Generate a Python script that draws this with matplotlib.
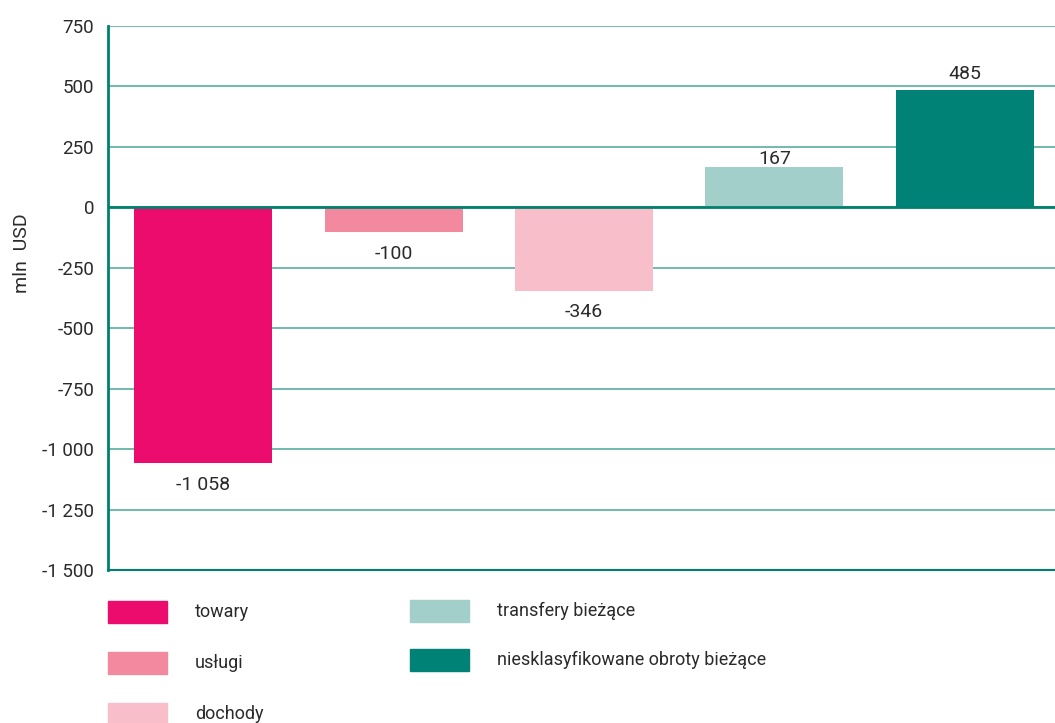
import matplotlib
matplotlib.use("Agg")
import matplotlib.pyplot as plt
from matplotlib import font_manager
from matplotlib.patches import Rectangle

categories = ["towary", "usługi", "dochody", "transfery bieżące", "niesklasyfikowane obroty bieżące"]
values = [-1058, -100, -346, 167, 485]
colors = ["#EC0C6E", "#F2899F", "#F8BFCB", "#A3CFCA", "#008276"]
yticks = [750, 500, 250, 0, -250, -500, -750, -1000, -1250, -1500]
label_offsets = [-13, -13, -12, -1, 7]

names = {f.name for f in font_manager.fontManager.ttflist}
fam = "Liberation Sans Narrow" if "Liberation Sans Narrow" in names else "Roboto"
plt.rcParams["font.family"] = [fam, "DejaVu Sans"]
txtc = "#2a2a2a"
teal = "#00806F"

def fmt(v):
    s = f"{abs(v):,}".replace(",", " ")
    return ("-" if v < 0 else "") + s

W, H = 1055, 723
fig = plt.figure(figsize=(W / 100, H / 100), dpi=100)
ax = fig.add_axes([108 / W, 1 - 570 / H, 952 / W, 544 / H])

x = list(range(len(categories)))
ax.bar(x, values, width=0.725, color=colors, zorder=3)
ax.set_xlim(-0.5, len(categories) - 0.5)
ax.set_ylim(-1500, 750)
ax.set_yticks(yticks)
ax.set_yticklabels([fmt(t) for t in yticks], fontsize=13.5, color=txtc)
ax.tick_params(axis="y", length=0, pad=10)
ax.set_xticks([])
for t in yticks:
    ax.axhline(t, color="#5AADA0", lw=1.2, zorder=1)
ax.axhline(0, color=teal, lw=2, zorder=4)
for s in ["top", "right"]:
    ax.spines[s].set_visible(False)
ax.spines["left"].set_color(teal)
ax.spines["left"].set_linewidth(2)
ax.spines["bottom"].set_color(teal)
ax.spines["bottom"].set_linewidth(1.5)

for xi, v, off in zip(x, values, label_offsets):
    ax.annotate(fmt(v), (xi, v), xytext=(0, off), textcoords="offset pixels",
                ha="center", va="top" if v < 0 else "bottom", fontsize=14, color=txtc)

fig.text(22 / W, 1 - 253 / H, "mln  USD", rotation=90, ha="center", va="center",
         fontsize=14, color=txtc)

# legend
leg_pos = [(108, 601), (108, 652), (108, 703), (410, 600), (410, 649)]
for (lx, ly), c, name in zip(leg_pos, colors, categories):
    fig.patches.append(Rectangle((lx / W, 1 - (ly + 22) / H), 59 / W, 22 / H,
                                 transform=fig.transFigure, color=c))
    fig.text((lx + 87) / W, 1 - (ly + 11) / H, name, ha="left", va="center",
             fontsize=13, color=txtc)

fig.savefig("out.png", dpi=100)
